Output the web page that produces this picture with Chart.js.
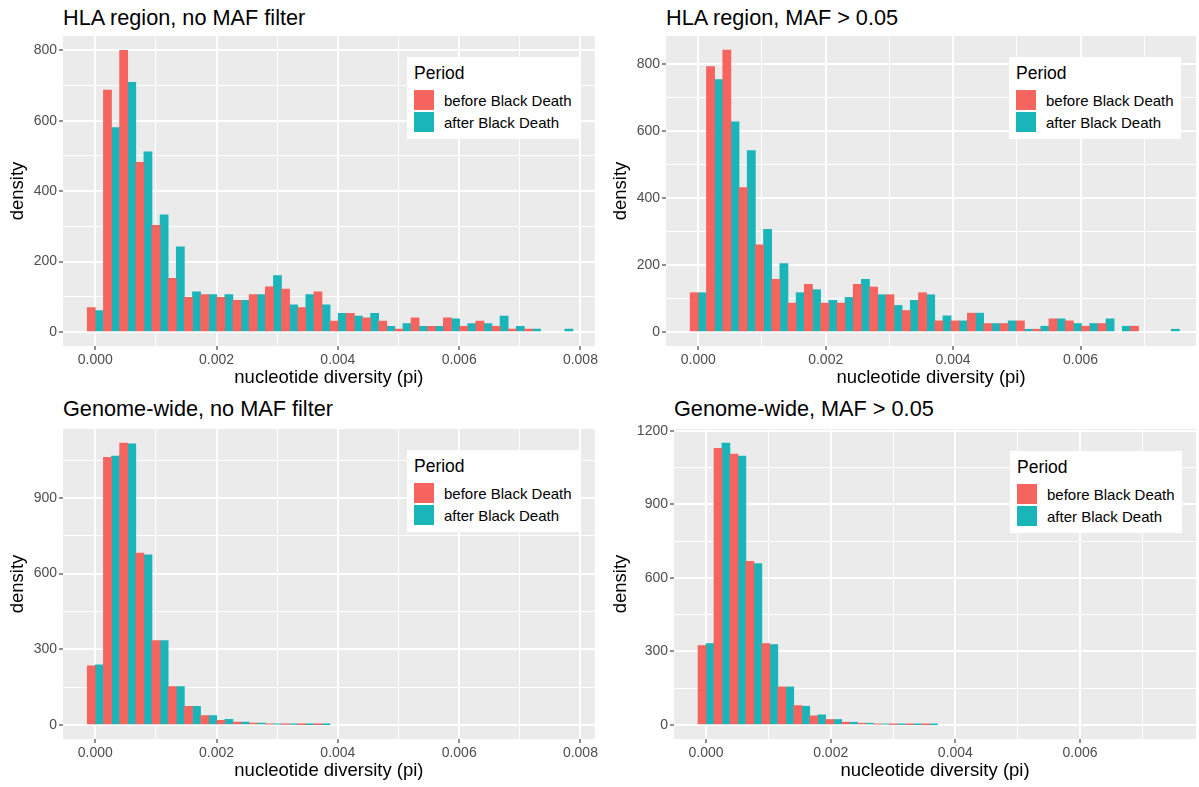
<!DOCTYPE html>
<html>
<head>
<meta charset="utf-8">
<script src="https://cdn.jsdelivr.net/npm/chart.js@4.4.0/dist/chart.umd.min.js"></script>
<style>
body { margin: 0; background: #fff; width: 1199px; height: 787px; position: relative; overflow: hidden;
       font-family: "Liberation Sans", Arial, Helvetica, sans-serif; }
canvas { position: absolute; }
.ttl { position: absolute; font-size: 21.7px; line-height: 24px; color: #000; white-space: nowrap; }
.leg { position: absolute; background: #fff; width: 172px; height: 82px; }
.leg .hd { position: absolute; left: 7px; top: 6px; font-size: 17.5px; line-height: 20px; color: #000; }
.leg .sw { position: absolute; left: 7px; width: 20px; height: 20px; }
.leg .lb { position: absolute; left: 37px; font-size: 15px; line-height: 16px; color: #000; white-space: nowrap; }
</style>
</head>
<body>

<div class="ttl" style="left:63px;top:6px">HLA region, no MAF filter</div>
<div class="ttl" style="left:666px;top:6px">HLA region, MAF &gt; 0.05</div>
<div class="ttl" style="left:63px;top:397px">Genome-wide, no MAF filter</div>
<div class="ttl" style="left:674px;top:397px">Genome-wide, MAF &gt; 0.05</div>

<canvas id="c1" width="600" height="393" style="left:0;top:0"></canvas>
<canvas id="c2" width="599" height="393" style="left:600px;top:0"></canvas>
<canvas id="c3" width="600" height="394" style="left:0;top:393px"></canvas>
<canvas id="c4" width="599" height="394" style="left:600px;top:393px"></canvas>

<script>
// legend / series
var periods = ['before Black Death', 'after Black Death'];
var colors = ['#F5645E', '#19B5B9'];

// bin centres (histogram, 30 bins)
var binsNoMaf = [0, 0.000267, 0.000534, 0.000801, 0.001068, 0.001335, 0.001602, 0.001869, 0.002136, 0.002403,
                 0.00267, 0.002937, 0.003204, 0.003471, 0.003738, 0.004005, 0.004272, 0.004539, 0.004806, 0.005073,
                 0.00534, 0.005607, 0.005874, 0.006141, 0.006408, 0.006675, 0.006942, 0.007209, 0.007476, 0.007743];
var binsMaf = [0, 0.000256, 0.000512, 0.000768, 0.001024, 0.00128, 0.001536, 0.001792, 0.002048, 0.002304,
               0.00256, 0.002816, 0.003072, 0.003328, 0.003584, 0.00384, 0.004096, 0.004352, 0.004608, 0.004864,
               0.00512, 0.005376, 0.005632, 0.005888, 0.006144, 0.0064, 0.006656, 0.006912, 0.007168, 0.007424];

// densities
var hlaNoMafBefore = [69, 687, 800, 482, 303, 152, 98, 106, 98, 90, 106, 128, 122, 69, 114, 31, 53, 40, 31, 8, 40, 16, 40, 16, 31, 16, 8, 8, 0, 0];
var hlaNoMafAfter  = [61, 581, 709, 512, 333, 242, 114, 106, 106, 90, 106, 160, 77, 106, 77, 53, 45, 53, 16, 24, 16, 16, 37, 24, 24, 45, 16, 8, 0, 8];

var hlaMafBefore = [117, 792, 841, 431, 260, 157, 86, 142, 86, 86, 142, 134, 111, 64, 117, 33, 33, 56, 25, 25, 33, 8, 39, 33, 17, 25, 0, 17, 0, 0];
var hlaMafAfter  = [117, 753, 627, 541, 306, 204, 117, 126, 94, 103, 157, 111, 79, 94, 111, 48, 33, 56, 25, 33, 8, 17, 39, 25, 25, 39, 17, 0, 0, 8];

var gwNoMafBefore = [234, 1061, 1117, 681, 334, 152, 74, 37, 18, 11, 7, 3, 1.5, 1, 0.5, 0, 0, 0, 0, 0, 0, 0, 0, 0, 0, 0, 0, 0, 0, 0];
var gwNoMafAfter  = [238, 1066, 1114, 674, 334, 152, 74, 37, 22, 11, 7, 3, 1.5, 1, 0.5, 0, 0, 0, 0, 0, 0, 0, 0, 0, 0, 0, 0, 0, 0, 0];

var gwMafBefore = [324, 1129, 1105, 667, 332, 155, 79, 37, 22, 11, 7, 3, 1.5, 1, 0.5, 0, 0, 0, 0, 0, 0, 0, 0, 0, 0, 0, 0, 0, 0, 0];
var gwMafAfter  = [332, 1150, 1097, 658, 328, 155, 76, 41, 22, 11, 7, 3, 1.5, 1, 0.5, 0, 0, 0, 0, 0, 0, 0, 0, 0, 0, 0, 0, 0, 0, 0];

// ticks
var xMajor = [0, 0.002, 0.004, 0.006, 0.008];
var xLabels = ['0.000', '0.002', '0.004', '0.006', '0.008'];
var xMinor = [0.001, 0.003, 0.005, 0.007];
var yMajorHla = [0, 200, 400, 600, 800];
var yMinorHla = [100, 300, 500, 700];
var yMajorGw = [0, 300, 600, 900, 1200];
var yMinorGw = [150, 450, 750, 1050];

var xTitle = 'nucleotide diversity (pi)';
var yTitle = 'density';

Chart.defaults.font.family = '"Liberation Sans", Arial, Helvetica, sans-serif';

// grey panel background like ggplot
var panelBg = {
    id: 'panelBg',
    beforeDraw: function(chart) {
        var a = chart.chartArea, ctx = chart.ctx;
        ctx.save();
        ctx.fillStyle = '#EBEBEB';
        ctx.fillRect(a.left, a.top, a.right - a.left, a.bottom - a.top);
        ctx.restore();
    }
};

function setTicks(major, minor) {
    return function(axis) {
        var all = major.concat(minor).filter(function(v) { return v >= axis.min && v <= axis.max; });
        all.sort(function(a, b) { return a - b; });
        axis.ticks = all.map(function(v) { return { value: v }; });
    };
}

function gridFor(major) {
    return {
        color: '#FFFFFF',
        lineWidth: function(c) { return major.indexOf(c.tick.value) >= 0 ? 2 : 1; },
        tickColor: function(c) { return major.indexOf(c.tick.value) >= 0 ? '#333333' : 'rgba(0,0,0,0)'; },
        tickWidth: 1.1,
        tickLength: 4
    };
}

function makePanel(id, p) {
    var ds = [p.before, p.after].map(function(vals, k) {
        return {
            label: periods[k],
            // empty bins are not drawn
            data: p.bins.map(function(x, i) { return { x: x, y: vals[i] === 0 ? null : vals[i] }; }),
            backgroundColor: colors[k],
            borderWidth: 0,
            categoryPercentage: 1,
            barPercentage: 1
        };
    });

    new Chart(document.getElementById(id), {
        type: 'bar',
        data: { datasets: ds },
        options: {
            responsive: false,
            animation: false,
            layout: { padding: { top: 36, left: 0, right: p.padRight, bottom: 0 } },
            plugins: { legend: { display: false }, tooltip: { enabled: false } },
            scales: {
                x: {
                    type: 'linear',
                    offset: false,
                    min: p.xMin,
                    max: p.xMax,
                    afterBuildTicks: setTicks(xMajor, xMinor),
                    afterFit: function(axis) { axis.height = p.xHeight; },
                    grid: Object.assign(gridFor(xMajor), { offset: false }),
                    border: { display: false },
                    ticks: {
                        autoSkip: false, maxRotation: 0, padding: 2,
                        color: '#4D4D4D', font: { size: 14 },
                        callback: function(v) { var i = xMajor.indexOf(v); return i >= 0 ? xLabels[i] : ''; }
                    },
                    title: { display: true, text: xTitle, color: '#000', font: { size: 18.5 },
                             padding: { top: 0, bottom: p.xTitlePad } }
                },
                y: {
                    min: p.yMin,
                    max: p.yMax,
                    afterBuildTicks: setTicks(p.yMajor, p.yMinor),
                    afterFit: function(axis) { axis.width = p.yWidth; },
                    grid: gridFor(p.yMajor),
                    border: { display: false },
                    ticks: {
                        autoSkip: false, padding: 2,
                        color: '#4D4D4D', font: { size: 14 },
                        callback: function(v) { return p.yMajor.indexOf(v) >= 0 ? String(v) : ''; }
                    },
                    title: { display: true, text: yTitle, color: '#000', font: { size: 18.5 },
                             padding: { top: p.yTitlePad, bottom: 0 } }
                }
            }
        },
        plugins: [panelBg]
    });
}

makePanel('c1', { bins: binsNoMaf, before: hlaNoMafBefore, after: hlaNoMafAfter,
    xMin: -0.000533, xMax: 0.008238, yMin: -40, yMax: 841, yMajor: yMajorHla, yMinor: yMinorHla,
    yWidth: 63, xHeight: 47, padRight: 2, xTitlePad: 4, yTitlePad: 7 });
makePanel('c2', { bins: binsMaf, before: hlaMafBefore, after: hlaMafAfter,
    xMin: -0.000507, xMax: 0.007813, yMin: -42, yMax: 883, yMajor: yMajorHla, yMinor: yMinorHla,
    yWidth: 66, xHeight: 47, padRight: 3, xTitlePad: 4, yTitlePad: 10 });
makePanel('c3', { bins: binsNoMaf, before: gwNoMafBefore, after: gwNoMafAfter,
    xMin: -0.000533, xMax: 0.008238, yMin: -56, yMax: 1173, yMajor: yMajorGw, yMinor: yMinorGw,
    yWidth: 63, xHeight: 48, padRight: 2, xTitlePad: 4.5, yTitlePad: 7 });
makePanel('c4', { bins: binsMaf, before: gwMafBefore, after: gwMafAfter,
    xMin: -0.000513, xMax: 0.007859, yMin: -57.5, yMax: 1207.5, yMajor: yMajorGw, yMinor: yMinorGw,
    yWidth: 74, xHeight: 48, padRight: 3, xTitlePad: 4.5, yTitlePad: 10 });

// legends (inside each panel, as in the original)
var legendPos = [[407, 57], [1009, 57], [407, 450], [1010, 451]];
legendPos.forEach(function(pos) {
    var box = document.createElement('div');
    box.className = 'leg';
    box.style.left = pos[0] + 'px';
    box.style.top = pos[1] + 'px';
    var html = '<div class="hd">Period</div>';
    periods.forEach(function(name, k) {
        html += '<div class="sw" style="top:' + (33 + k * 22) + 'px;background:' + colors[k] + '"></div>';
        html += '<div class="lb" style="top:' + (35.5 + k * 22) + 'px">' + name + '</div>';
    });
    box.innerHTML = html;
    document.body.appendChild(box);
});
</script>
</body>
</html>
